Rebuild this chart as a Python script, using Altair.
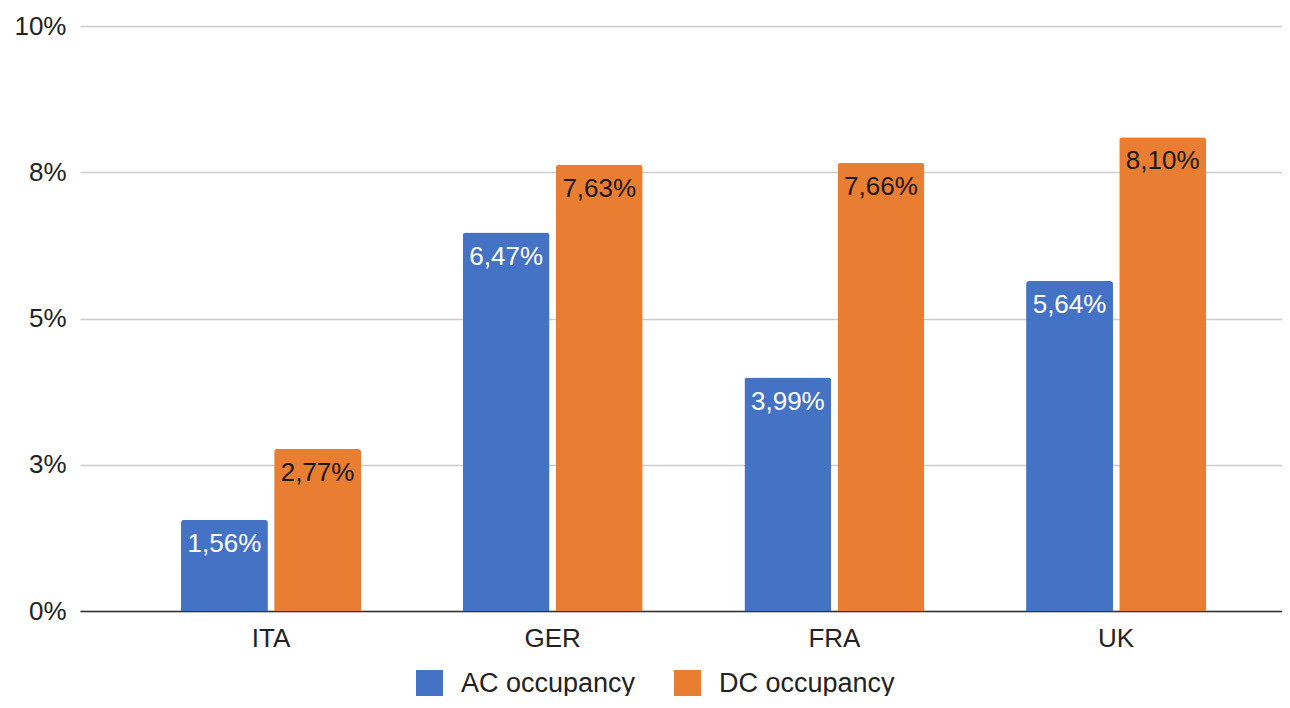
import altair as alt
import pandas as pd

countries = ["ITA", "GER", "FRA", "UK"]
series_names = ["AC occupancy", "DC occupancy"]
ac_values = [1.56, 6.47, 3.99, 5.64]
dc_values = [2.77, 7.63, 7.66, 8.10]
y_ticks = [0, 2.5, 5, 7.5, 10]
colors = ["#4472C4", "#E97D31"]

rows = []
for c, a, d in zip(countries, ac_values, dc_values):
    rows.append({"country": c, "series": series_names[0], "value": a})
    rows.append({"country": c, "series": series_names[1], "value": d})
df = pd.DataFrame(rows)
df["label"] = df["value"].map(lambda v: f"{v:.2f}".replace(".", ",") + "%")

FONT = "Liberation Sans"

x_enc = alt.X(
    "country:N",
    sort=countries,
    title=None,
    scale=alt.Scale(paddingInner=0.361, paddingOuter=0.314, align=0.571),
    axis=alt.Axis(
        labelAngle=0, ticks=False, grid=False, domainColor="#333333",
        domainWidth=1.5, labelFontSize=26, labelColor="#222222",
        labelFont=FONT, labelPadding=14,
    ),
)
xoff = alt.XOffset("series:N", sort=series_names,
                   scale=alt.Scale(paddingInner=0.067))
y_enc = alt.Y(
    "value:Q",
    title=None,
    scale=alt.Scale(domain=[0, 10], nice=False),
    axis=alt.Axis(
        values=y_ticks, labelExpr="round(datum.value) + '%'", domain=False,
        ticks=False, gridColor="#cccccc", gridWidth=1.5, labelFontSize=26,
        labelColor="#222222", labelFont=FONT, labelPadding=14,
    ),
)

bars = alt.Chart(df).mark_bar(cornerRadiusTopLeft=3, cornerRadiusTopRight=3).encode(
    x=x_enc,
    xOffset=xoff,
    y=y_enc,
    color=alt.Color(
        "series:N",
        sort=series_names,
        scale=alt.Scale(domain=series_names, range=colors),
        legend=alt.Legend(
            title=None, orient="none", legendX=336, legendY=644,
            direction="horizontal", symbolType="square", symbolSize=729,
            symbolStrokeWidth=0, labelFontSize=27, labelFont=FONT,
            labelColor="#222222", labelOffset=18, columnPadding=38,
            labelLimit=0,
        ),
    ),
)

labels = alt.Chart(df).mark_text(
    baseline="alphabetic", align="center", dy=32, fontSize=26, font=FONT
).encode(
    x=alt.X("country:N", sort=countries),
    xOffset=alt.XOffset("series:N", sort=series_names),
    y=alt.Y("value:Q"),
    text="label:N",
    color=alt.condition(
        alt.datum.series == series_names[0], alt.value("white"), alt.value("#1a1a1a")
    ),
)

chart = (
    alt.layer(bars, labels)
    .properties(
        width=1202, height=585,
        padding={"left": 72, "top": 18, "right": 0, "bottom": 85},
        autosize=alt.AutoSizeParams(type="none"),
    )
    .configure_view(stroke=None)
)

chart.save("out.html", embed_options={"renderer": "svg", "actions": False})
